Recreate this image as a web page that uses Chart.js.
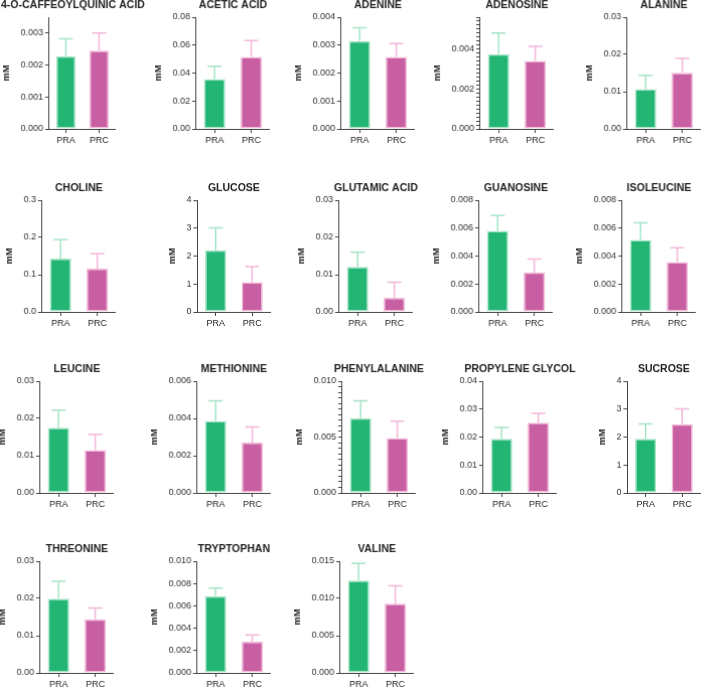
<!DOCTYPE html>
<html>
<head>
<meta charset="utf-8">
<script src="https://cdn.jsdelivr.net/npm/chart.js@4.4.1/dist/chart.umd.min.js"></script>
<style>
    html, body { margin: 0; padding: 0; background: #fff; }
    #board { position: relative; width: 702px; height: 687px; overflow: hidden; }
    .panel { position: absolute; left: 0; top: 0; width: 170px; height: 170px; }
</style>
</head>
<body>
<div id="board"></div>
<script>
// ---- data ----
const titles = [
    '4-O-CAFFEOYLQUINIC ACID', 'ACETIC ACID', 'ADENINE', 'ADENOSINE', 'ALANINE',
    'CHOLINE', 'GLUCOSE', 'GLUTAMIC ACID', 'GUANOSINE', 'ISOLEUCINE',
    'LEUCINE', 'METHIONINE', 'PHENYLALANINE', 'PROPYLENE GLYCOL', 'SUCROSE',
    'THREONINE', 'TRYPTOPHAN', 'VALINE'
];
const groups = ['PRA', 'PRC'];

const praMean = [0.00228, 0.0357, 0.00314, 0.00375, 0.0107, 0.143, 2.21, 0.0121, 0.0058, 0.00516,
                 0.0175, 0.00386, 0.0067, 0.0194, 1.94, 0.0199, 0.00688, 0.0124];
const praSD   = [0.00054, 0.0092, 0.00048, 0.00106, 0.0037, 0.051, 0.80, 0.0039, 0.0011, 0.00122,
                 0.0047, 0.00109, 0.00154, 0.0040, 0.53, 0.0047, 0.00071, 0.0023];
const prcMean = [0.00245, 0.0516, 0.00258, 0.0034, 0.0151, 0.116, 1.06, 0.0038, 0.00283, 0.00357,
                 0.0115, 0.0027, 0.0049, 0.0251, 2.46, 0.0144, 0.00279, 0.0093];
const prcSD   = [0.00055, 0.0116, 0.00047, 0.00074, 0.0038, 0.040, 0.56, 0.0042, 0.00096, 0.00102,
                 0.0042, 0.00084, 0.00153, 0.0034, 0.55, 0.0030, 0.00062, 0.0024];

const yMax = [0.0035, 0.08, 0.004, 0.0056, 0.03, 0.3, 4, 0.03, 0.008, 0.008,
              0.03, 0.006, 0.010, 0.04, 4, 0.03, 0.010, 0.015];
const yTickLabels = [
    ['0.000', '0.001', '0.002', '0.003'],
    ['0.00', '0.02', '0.04', '0.06', '0.08'],
    ['0.000', '0.001', '0.002', '0.003', '0.004'],
    ['0.000', '0.002', '0.004'],
    ['0.00', '0.01', '0.02', '0.03'],
    ['0.0', '0.1', '0.2', '0.3'],
    ['0', '1', '2', '3', '4'],
    ['0.00', '0.01', '0.02', '0.03'],
    ['0.000', '0.002', '0.004', '0.006', '0.008'],
    ['0.000', '0.002', '0.004', '0.006', '0.008'],
    ['0.00', '0.01', '0.02', '0.03'],
    ['0.000', '0.002', '0.004', '0.006'],
    ['0.000', '0.005', '0.010'],
    ['0.00', '0.01', '0.02', '0.03', '0.04'],
    ['0', '1', '2', '3', '4'],
    ['0.00', '0.01', '0.02', '0.03'],
    ['0.000', '0.002', '0.004', '0.006', '0.008', '0.010'],
    ['0.000', '0.005', '0.010', '0.015']
];
const yMinorStep = [null, null, null, 0.0002, null, null, null, null, null, null,
                    null, null, 0.0005, null, null, null, null, null];

// ---- layout ----
const axisX = [[49, 196, 341, 480, 627], [42, 197, 339, 479, 622], [40, 197, 342, 483, 627], [40, 197, 340]];
const zeroY = [128, 311, 492, 672];
const plotH = 111;
const rightPad = 45;
const fillColors = ['#22b573', '#c85fa2'];
const edgeColors = ['#a6e4c6', '#f2b7d8'];

Chart.defaults.font.family = '"Liberation Sans", Arial, Helvetica, sans-serif';
Chart.defaults.color = '#333';

// upper error bars drawn with the y scale of each chart
const errorBars = {
    id: 'errorBars',
    afterDatasetsDraw(chart, args, opts) {
        const ctx = chart.ctx;
        const y = chart.scales.y;
        const ds = chart.data.datasets[0];
        chart.getDatasetMeta(0).data.forEach((bar, i) => {
            const top = y.getPixelForValue(ds.data[i] + opts.errors[i]);
            ctx.save();
            ctx.strokeStyle = edgeColors[i];
            ctx.lineWidth = 1.5;
            ctx.beginPath();
            ctx.moveTo(bar.x, bar.y);
            ctx.lineTo(bar.x, top);
            ctx.moveTo(bar.x - 7, top);
            ctx.lineTo(bar.x + 7, top);
            ctx.stroke();
            ctx.restore();
        });
    }
};

// panel title centred over the plot area (the built-in title is squeezed to the box width)
const panelTitle = {
    id: 'panelTitle',
    afterDraw(chart, args, opts) {
        const { ctx, chartArea } = chart;
        ctx.save();
        ctx.font = 'bold 10.5px "Liberation Sans", Arial, Helvetica, sans-serif';
        ctx.fillStyle = '#222';
        ctx.textBaseline = 'middle';
        ctx.textAlign = opts.align === 'start' ? 'left' : 'center';
        const x = opts.align === 'start' ? 0 : (chartArea.left + chartArea.right) / 2;
        ctx.fillText(opts.text, x, chartArea.top - 12);
        ctx.restore();
    }
};

const board = document.getElementById('board');

titles.forEach((title, i) => {
    const row = Math.floor(i / 5), col = i % 5;
    const plotW = i === 0 ? 66 : 73;

    const wrap = document.createElement('div');
    wrap.className = 'panel';
    const canvas = document.createElement('canvas');
    wrap.appendChild(canvas);
    board.appendChild(wrap);

    const majors = yTickLabels[i].map(Number);
    const labelFor = new Map(yTickLabels[i].map(s => [Number(s).toFixed(6), s]));
    let tickValues = majors;
    if (yMinorStep[i]) {
        tickValues = [];
        const n = Math.round(yMax[i] / yMinorStep[i]);
        for (let k = 0; k <= n; k++) tickValues.push(k * yMinorStep[i]);
    }

    const chart = new Chart(canvas.getContext('2d'), {
        type: 'bar',
        data: {
            labels: groups,
            datasets: [{
                data: [praMean[i], prcMean[i]],
                backgroundColor: fillColors,
                borderColor: edgeColors,
                borderWidth: 1.5,
                borderSkipped: false,
                barPercentage: 0.58,
                categoryPercentage: 1
            }]
        },
        options: {
            responsive: true,
            maintainAspectRatio: false,
            animation: false,
            layout: { padding: { left: 0, right: rightPad, top: 20, bottom: 0 } },
            plugins: {
                legend: { display: false },
                tooltip: { enabled: false },
                title: { display: false },
                panelTitle: { text: title, align: i === 0 ? 'start' : 'center' },
                errorBars: { errors: [praSD[i], prcSD[i]] }
            },
            scales: {
                x: {
                    offset: true,
                    grid: { display: true, drawOnChartArea: false, offset: false, tickLength: 4, color: '#444' },
                    border: { color: '#444', width: 1 },
                    ticks: { color: '#222', font: { size: 9 }, padding: 2 }
                },
                y: {
                    min: 0,
                    max: yMax[i],
                    afterBuildTicks: axis => { axis.ticks = tickValues.map(v => ({ value: v })); },
                    grid: { display: true, drawOnChartArea: false, tickLength: 4, color: '#444' },
                    border: { color: '#444', width: 1 },
                    ticks: {
                        autoSkip: false,
                        color: '#333',
                        font: { size: 9 },
                        padding: 2,
                        callback: v => labelFor.get(Number(v).toFixed(6)) || ''
                    },
                    title: {
                        display: true,
                        text: 'mM',
                        color: '#222',
                        font: { size: 9.5, weight: 'bold' },
                        padding: { top: 0, bottom: 6 }
                    }
                }
            }
        },
        plugins: [errorBars, panelTitle]
    });

    // size the canvas so the plot area matches, then put the axes where they sit in the figure
    let ca = chart.chartArea;
    wrap.style.width = (wrap.offsetWidth + plotW - (ca.right - ca.left)) + 'px';
    wrap.style.height = (wrap.offsetHeight + plotH - (ca.bottom - ca.top)) + 'px';
    chart.resize();
    ca = chart.chartArea;
    wrap.style.left = (axisX[row][col] - ca.left) + 'px';
    wrap.style.top = (zeroY[row] - ca.bottom) + 'px';
});
</script>
</body>
</html>
